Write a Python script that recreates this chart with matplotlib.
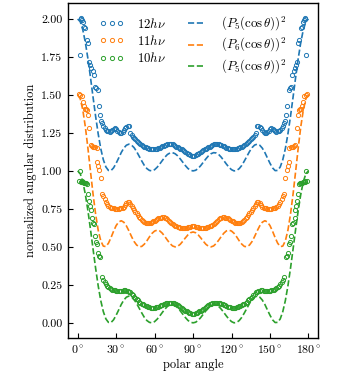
import numpy as np
import matplotlib
matplotlib.use("Agg")
import matplotlib.pyplot as plt
from matplotlib.ticker import FixedLocator, FormatStrFormatter

plt.rcParams['font.family'] = 'serif'
plt.rcParams['font.serif'] = ['cmr10', 'DejaVu Serif']
plt.rcParams['mathtext.fontset'] = 'cm'
plt.rcParams['axes.unicode_minus'] = False
plt.rcParams['axes.formatter.use_mathtext'] = True

# ---- measured data (0..90 deg half; chart is symmetric about 90 deg) ----
blue_theta = [1.6, 2.3, 2.9, 3.5, 4.2, 5.0, 5.8, 7.0, 7.8, 8.8, 9.5, 10.4, 11.6, 12.6,
              13.5, 14.5, 15.5, 16.6, 17.4, 18.3] + list(range(19, 91))
blue_vals = [1.76, 2.00, 2.005, 1.995, 1.98, 1.95, 1.94, 1.86, 1.84, 1.72, 1.70, 1.68, 1.655, 1.63,
             1.55, 1.545, 1.53, 1.43, 1.37, 1.33,
             1.315, 1.295, 1.283, 1.272, 1.265, 1.26, 1.258, 1.26, 1.266, 1.275, 1.281, 1.278,
             1.265, 1.255, 1.25, 1.249, 1.255, 1.268, 1.282, 1.291, 1.296, 1.295, 1.25, 1.235,
             1.225, 1.216, 1.21, 1.2, 1.19, 1.183, 1.176, 1.17, 1.165, 1.16, 1.156, 1.152,
             1.149, 1.146, 1.144, 1.143, 1.143, 1.143, 1.144, 1.146, 1.149, 1.153, 1.157, 1.161,
             1.165, 1.169, 1.173, 1.177, 1.179, 1.18, 1.179, 1.176, 1.172, 1.166, 1.16, 1.155,
             1.15, 1.146, 1.142, 1.137, 1.131, 1.125, 1.119, 1.113, 1.108, 1.104, 1.101, 1.1]

orange_theta = [1.3, 2.2, 3.1, 4.4, 5.2, 5.9, 6.8, 7.5, 8.3, 9.0, 10.1, 11.0, 11.8, 12.8,
                13.8, 14.8, 15.3, 16.1, 16.9, 18.2] + list(range(19, 91))
orange_vals = [1.505, 1.50, 1.495, 1.456, 1.43, 1.41, 1.405, 1.40, 1.37, 1.285, 1.17, 1.165, 1.16, 1.16,
               1.155, 1.15, 1.057, 1.035, 1.007, 0.956,
               0.85, 0.835, 0.815, 0.795, 0.78, 0.77, 0.763, 0.758, 0.755, 0.753, 0.752, 0.751,
               0.751, 0.752, 0.753, 0.755, 0.758, 0.765, 0.775, 0.788, 0.796, 0.795, 0.782, 0.77,
               0.758, 0.745, 0.732, 0.72, 0.708, 0.697, 0.687, 0.678, 0.671, 0.665, 0.66, 0.656,
               0.655, 0.656, 0.659, 0.663, 0.667, 0.672, 0.677, 0.682, 0.687, 0.69, 0.693, 0.695,
               0.695, 0.693, 0.688, 0.681, 0.673, 0.666, 0.659, 0.652, 0.646, 0.64, 0.635, 0.631,
               0.628, 0.625, 0.623, 0.622, 0.622, 0.623, 0.625, 0.628, 0.631, 0.633, 0.635, 0.636]

green_theta = [1.3, 1.9, 2.4, 3.0, 3.7, 4.3, 5.0, 5.7, 6.5, 7.2, 8.0, 8.6, 9.4, 10.1, 10.8,
               11.7, 12.5, 13.3, 14.2, 15.2, 16.2, 17.0, 17.8] + list(range(19, 91))
green_vals = [0.934, 1.0, 0.93, 0.935, 0.93, 0.925, 0.92, 0.92, 0.918, 0.915, 0.85, 0.80, 0.77,
              0.745, 0.69, 0.66, 0.65, 0.57, 0.535, 0.52, 0.46, 0.44, 0.43,
              0.30, 0.285, 0.27, 0.255, 0.245, 0.235, 0.228, 0.222, 0.218, 0.215, 0.213, 0.211,
              0.21, 0.21, 0.21, 0.211, 0.212, 0.213, 0.213, 0.212, 0.21, 0.206, 0.2, 0.192,
              0.182, 0.172, 0.163, 0.155, 0.147, 0.14, 0.133, 0.127, 0.122, 0.117, 0.112, 0.108,
              0.104, 0.101, 0.099, 0.098, 0.098, 0.099, 0.101, 0.104, 0.107, 0.111, 0.115, 0.119,
              0.123, 0.127, 0.129, 0.131, 0.132, 0.132, 0.131, 0.13, 0.128, 0.125, 0.121, 0.116,
              0.11, 0.104, 0.098, 0.092, 0.086, 0.08, 0.075, 0.07, 0.066, 0.062, 0.06, 0.058]

# theory curves, sampled every 2 deg from 0 to 90
theory_theta = list(range(0, 91, 2))
blue_theory = [2.000, 1.982, 1.929, 1.845, 1.738, 1.615, 1.485, 1.359, 1.244, 1.147, 1.074, 1.026,
               1.003, 1.002, 1.020, 1.050, 1.085, 1.121, 1.150, 1.169, 1.176, 1.170, 1.153, 1.127,
               1.096, 1.065, 1.036, 1.015, 1.003, 1.000, 1.008, 1.024, 1.045, 1.068, 1.090, 1.108,
               1.118, 1.120, 1.113, 1.099, 1.079, 1.057, 1.035, 1.016, 1.004, 1.000]
orange_theory = [1.500, 1.475, 1.401, 1.289, 1.149, 0.996, 0.847, 0.715, 0.610, 0.540, 0.505, 0.502,
                 0.524, 0.561, 0.603, 0.640, 0.664, 0.672, 0.662, 0.638, 0.605, 0.568, 0.535, 0.512,
                 0.501, 0.503, 0.518, 0.540, 0.566, 0.589, 0.604, 0.610, 0.605, 0.590, 0.568, 0.544,
                 0.522, 0.506, 0.500, 0.504, 0.517, 0.537, 0.559, 0.579, 0.593, 0.598]
green_theory = [1.000, 0.982, 0.929, 0.845, 0.738, 0.615, 0.485, 0.359, 0.244, 0.147, 0.074, 0.026,
                0.003, 0.002, 0.020, 0.050, 0.085, 0.121, 0.150, 0.169, 0.176, 0.170, 0.153, 0.127,
                0.096, 0.065, 0.036, 0.015, 0.003, 0.000, 0.008, 0.024, 0.045, 0.068, 0.090, 0.108,
                0.118, 0.120, 0.113, 0.099, 0.079, 0.057, 0.035, 0.016, 0.004, 0.000]

scatter_labels = [r'$12h\nu$', r'$11h\nu$', r'$10h\nu$']
theory_labels = [r'$(P_5(\cos\theta))^2$', r'$(P_6(\cos\theta))^2$', r'$(P_5(\cos\theta))^2$']
colors = ['#1f77b4', '#ff7f0e', '#2ca02c']
xticks = [0, 30, 60, 90, 120, 150, 180]
yticks = [0.0, 0.25, 0.5, 0.75, 1.0, 1.25, 1.5, 1.75, 2.0]


def mirror(theta, vals):
    t = np.asarray(theta, float)
    v = np.asarray(vals, float)
    keep = t < 90
    return (np.concatenate([t, 180 - t[keep][::-1]]),
            np.concatenate([v, v[keep][::-1]]))


fig = plt.figure(figsize=(3.42, 3.76), dpi=100)
ax = fig.add_axes([0.199, 0.101, 0.731, 0.891])

scat = [(blue_theta, blue_vals), (orange_theta, orange_vals), (green_theta, green_vals)]
theo = [blue_theory, orange_theory, green_theory]

handles_s = []
for (t, v), c, lab in zip(scat, colors, scatter_labels):
    tt, vv = mirror(t, v)
    h, = ax.plot(tt, vv, 'o', ls='none', mfc='none', mec=c, ms=3.0, mew=0.7, label=lab)
    handles_s.append(h)

handles_t = []
for v, c, lab in zip(theo, colors, theory_labels):
    tt, vv = mirror(theory_theta, v)
    h, = ax.plot(tt, vv, '--', color=c, lw=1.2, label=lab)
    handles_t.append(h)

ax.set_xlim(-7.5, 187.5)
ax.set_ylim(-0.1, 2.105)
ax.xaxis.set_major_locator(FixedLocator(xticks))
ax.set_xticklabels([r'$%d^\circ$' % d for d in xticks])
ax.yaxis.set_major_locator(FixedLocator(yticks))
ax.yaxis.set_major_formatter(FormatStrFormatter('%.2f'))
ax.tick_params(direction='in', length=3.5, width=0.8, labelsize=8.6, pad=4)
for s in ax.spines.values():
    s.set_linewidth(1.0)

ax.set_xlabel('polar angle', fontsize=9, labelpad=2)
ax.set_ylabel('normalized angular distribution', fontsize=9, labelpad=3)

ax.legend(handles_s + handles_t, scatter_labels + theory_labels, ncol=2, loc='upper center',
          bbox_to_anchor=(0.5, 1.0), frameon=False, fontsize=9.3, numpoints=3,
          handlelength=1.9, columnspacing=1.4, labelspacing=0.24, borderpad=0.45,
          handletextpad=1.0)

fig.savefig('out.png', dpi=100)
